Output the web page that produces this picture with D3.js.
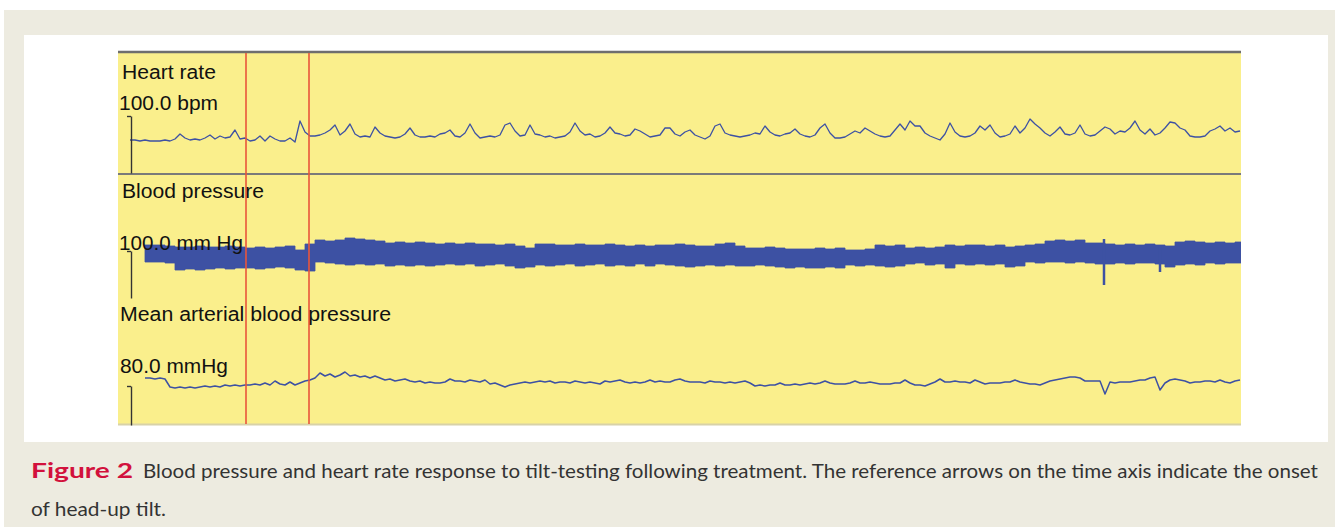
<!DOCTYPE html>
<html>
<head>
<meta charset="utf-8">
<script src="https://cdn.jsdelivr.net/npm/d3@7/dist/d3.min.js"></script>
<style>
body { margin: 0; background: #fff; }
.lab { font-family: "Liberation Sans", Arial, sans-serif; font-size: 19.5px; fill: #111; }
.cap { font-family: Lato, "Open Sans", sans-serif; font-size: 20px; fill: #333; }
</style>
</head>
<body>
<div id="chart"></div>
<script>
// heart rate (bpm), one reading every 5 s from t = 0
var hrValues = [
  76,76,75,76,75,75,75,76,75,
  77,82,78,76,77,76,78,81,77,80,78,79,86,77,78,
  75,76,80,75,80,77,75,75,78,74,95,
  84,80,80,81,83,86,91,81,85,
  92,82,79,80,79,89,83,80,79,78,79,82,88,81,79,79,80,79,82,
  83,86,80,79,83,92,83,78,79,80,79,81,91,93,85,80,
  81,91,82,81,79,80,78,79,80,84,93,85,81,82,79,80,
  83,89,83,82,80,81,87,85,82,79,80,81,88,88,82,80,
  84,86,81,79,77,80,90,92,83,81,80,79,80,81,83,82,
  90,84,81,80,82,83,87,82,80,79,81,88,92,83,78,78,
  79,82,85,83,88,85,82,80,79,80,86,92,86,95,90,90,
  83,80,78,76,82,93,84,80,79,80,83,90,86,91,83,79,
  80,82,90,83,88,97,92,88,83,80,84,89,82,81,83,91,
  82,80,81,85,89,87,82,85,84,88,95,86,82,87,81,83,
  88,94,93,88,86,80,79,79,80,85,87,90,85,88,84,85
];

// blood pressure envelope (mm Hg), one beat group every 10 s from t = 15
var bpSys = [
  112,112,110,108,108,110,108,108,110,108,106,108,106,108,110,102,114,
  122,120,122,126,124,122,120,116,118,116,118,116,114,116,114,116,114,114,112,114,
  110,106,114,114,112,112,114,112,112,114,112,110,112,110,112,112,114,112,110,110,
  114,116,110,106,106,108,106,104,104,104,106,104,106,102,102,104,112,110,112,106,
  108,106,108,112,110,112,112,110,112,108,110,112,114,120,122,120,122,116,116,114,
  112,114,112,114,112,110,118,120,118,116,118,116,118,118
];
var bpDia = [
  78,78,76,62,64,62,64,66,64,66,66,64,66,68,66,62,60,
  78,76,74,72,74,72,74,70,72,70,72,70,72,74,72,74,70,72,74,70,
  66,68,72,70,72,74,70,72,74,70,72,70,74,70,74,72,70,68,70,72,
  70,72,70,70,72,70,68,66,68,66,66,68,66,72,70,72,70,68,70,74,
  76,72,74,66,74,72,74,72,74,68,70,78,76,78,78,76,78,76,74,74,
  76,74,76,76,74,68,72,74,72,76,74,76,76,76
];
// short artefacts in the pressure trace
var spikeTimes = [974, 1030];
var spikeLow = [32, 58];
var spikeHigh = [124, 110];

// mean arterial pressure (mmHg), every 5 s from t = 15
var mapValues = [
  96,96,94,96,94,78,76,78,76,78,76,78,80,78,80,78,82,80,82,80,
  82,82,84,82,86,82,90,84,82,88,82,86,90,92,96,106,100,104,98,102,
  108,100,102,98,100,96,100,96,92,94,90,92,94,90,88,90,86,88,86,86,
  88,94,90,90,88,92,90,88,92,84,86,82,78,82,84,86,88,86,88,90,
  88,90,86,88,88,86,90,88,86,88,86,84,90,88,90,92,88,86,88,86,
  88,92,88,90,88,88,92,94,90,88,88,88,86,90,88,88,86,88,86,88,
  90,86,80,82,80,82,82,86,82,82,84,82,84,86,84,86,90,86,84,84,
  84,86,90,86,86,88,86,84,84,84,86,86,92,86,82,82,80,84,88,94,
  88,88,90,88,88,86,92,88,84,86,86,86,88,88,92,88,86,84,84,82,
  86,90,92,94,96,98,98,96,90,90,90,90,64,88,86,88,88,88,90,92,
  92,96,98,72,86,92,94,92,90,86,88,88,90,90,88,92,88,86,90,92
];

// onset of head-up tilt (reference marks), seconds
var tiltTimes = [116, 179];

var hrTime = d3.range(hrValues.length).map(function (i) { return i * 5; });
var mapTime = d3.range(mapValues.length).map(function (i) { return 15 + i * 5; });
var bpTime = d3.range(bpSys.length).map(function (i) { return 15 + i * 10; });

var width = 1335, height = 527;
var plot = {left: 118, right: 1241, top: 52, bottom: 424};

var svg = d3.select("#chart").append("svg")
    .attr("width", width)
    .attr("height", height);

// page backgrounds
svg.append("rect").attr("x", 4).attr("y", 10).attr("width", width - 4).attr("height", height - 10)
    .attr("fill", "#edebe0");
svg.append("rect").attr("x", 24).attr("y", 35).attr("width", 1304).attr("height", 407)
    .attr("fill", "#ffffff");
svg.append("rect").attr("x", plot.left).attr("y", plot.top)
    .attr("width", plot.right - plot.left).attr("height", plot.bottom - plot.top)
    .attr("fill", "#faef8c");

svg.append("clipPath").attr("id", "clip")
    .append("rect").attr("x", plot.left).attr("y", plot.top)
    .attr("width", plot.right - plot.left).attr("height", plot.bottom - plot.top);

var x = d3.scaleLinear().domain([0, 1110]).range([130, 1240]);
var hrY = d3.scaleLinear().domain([43, 100]).range([173, 116]);
var bpY = d3.scaleLinear().domain([6, 100]).range([298, 251]);
var mapY = d3.scaleLinear().domain([2, 80]).range([425, 386]);

var blue = "#3d51a3";
var traces = svg.append("g").attr("clip-path", "url(#clip)");

// heart rate
traces.append("path")
    .datum(hrValues)
    .attr("fill", "none")
    .attr("stroke", blue)
    .attr("stroke-width", 1.3)
    .attr("stroke-linejoin", "round")
    .attr("d", d3.line()
        .x(function (d, i) { return x(hrTime[i]); })
        .y(function (d) { return hrY(d); }));

// blood pressure band
traces.append("path")
    .datum(bpSys)
    .attr("fill", blue)
    .attr("stroke", blue)
    .attr("stroke-width", 0.8)
    .attr("d", d3.area()
        .curve(d3.curveStepAfter)
        .x(function (d, i) { return x(bpTime[i]); })
        .y0(function (d, i) { return bpY(bpDia[i]); })
        .y1(function (d) { return bpY(d); }));

traces.selectAll(".spike")
    .data(spikeTimes)
    .enter().append("line")
    .attr("class", "spike")
    .attr("x1", function (d) { return x(d); })
    .attr("x2", function (d) { return x(d); })
    .attr("y1", function (d, i) { return bpY(spikeLow[i]); })
    .attr("y2", function (d, i) { return bpY(spikeHigh[i]); })
    .attr("stroke", blue)
    .attr("stroke-width", 2.5);

// mean arterial pressure
traces.append("path")
    .datum(mapValues)
    .attr("fill", "none")
    .attr("stroke", blue)
    .attr("stroke-width", 1.5)
    .attr("stroke-linejoin", "round")
    .attr("d", d3.line()
        .x(function (d, i) { return x(mapTime[i]); })
        .y(function (d) { return mapY(d); }));

// panel borders
svg.append("line").attr("x1", plot.left).attr("x2", plot.right).attr("y1", 52).attr("y2", 52)
    .attr("stroke", "#6e6e6e").attr("stroke-width", 2.5);
svg.append("line").attr("x1", plot.left).attr("x2", plot.right).attr("y1", 174).attr("y2", 174)
    .attr("stroke", "#7a7a7a").attr("stroke-width", 2);
svg.append("line").attr("x1", plot.left).attr("x2", plot.right).attr("y1", 424.5).attr("y2", 424.5)
    .attr("stroke", "#d8d2a8").attr("stroke-width", 2);

// scale brackets
function bracket(scale, top) {
    var g = svg.append("g")
        .attr("transform", "translate(131,0)")
        .call(d3.axisLeft(scale).tickValues([top]).tickSize(4).tickSizeOuter(0).tickFormat(""));
    g.selectAll("path, line").attr("stroke", "#333").attr("stroke-width", 1.4);
}
bracket(hrY, 100);
bracket(bpY, 100);
bracket(mapY, 80);

// reference marks
svg.selectAll(".tilt")
    .data(tiltTimes)
    .enter().append("line")
    .attr("class", "tilt")
    .attr("x1", function (d) { return x(d); })
    .attr("x2", function (d) { return x(d); })
    .attr("y1", plot.top + 1)
    .attr("y2", plot.bottom)
    .attr("stroke", "#e9553b")
    .attr("stroke-width", 1.6);

// labels
var labels = [
    {t: "Heart rate", x: 122, y: 79, w: 94},
    {t: "100.0 bpm", x: 119, y: 110, w: 99},
    {t: "Blood pressure", x: 122, y: 198, w: 142},
    {t: "100.0 mm Hg", x: 119, y: 250, w: 124},
    {t: "Mean arterial blood pressure", x: 120, y: 321, w: 271},
    {t: "80.0 mmHg", x: 120, y: 373, w: 108}
];
svg.selectAll(".lab")
    .data(labels)
    .enter().append("text")
    .attr("class", "lab")
    .attr("x", function (d) { return d.x; })
    .attr("y", function (d) { return d.y; })
    .attr("textLength", function (d) { return d.w; })
    .attr("lengthAdjust", "spacingAndGlyphs")
    .text(function (d) { return d.t; });

// caption
svg.append("text").attr("class", "cap")
    .attr("x", 31).attr("y", 478)
    .attr("textLength", 102).attr("lengthAdjust", "spacingAndGlyphs")
    .style("font-weight", "bold").style("fill", "#d2113c")
    .text("Figure 2");
svg.append("text").attr("class", "cap")
    .attr("x", 143).attr("y", 478)
    .attr("textLength", 1175).attr("lengthAdjust", "spacingAndGlyphs")
    .text("Blood pressure and heart rate response to tilt-testing following treatment. The reference arrows on the time axis indicate the onset");
svg.append("text").attr("class", "cap")
    .attr("x", 31).attr("y", 516)
    .attr("textLength", 135).attr("lengthAdjust", "spacingAndGlyphs")
    .text("of head-up tilt.");
</script>
</body>
</html>
